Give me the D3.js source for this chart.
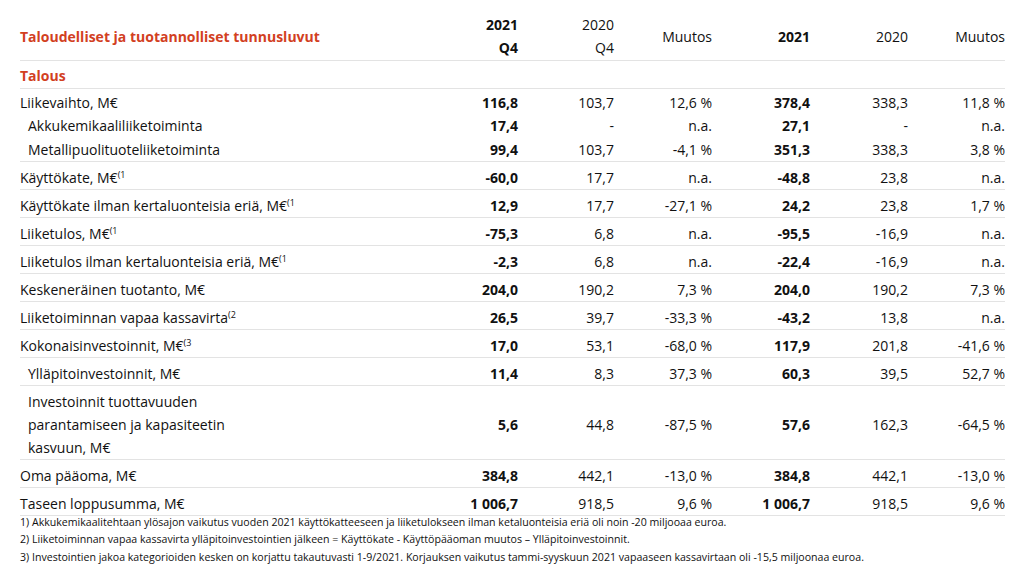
<!DOCTYPE html>
<html><head><meta charset="utf-8">
<script src="https://cdn.jsdelivr.net/npm/d3@7"></script>
<style>body{margin:0;background:#fff}text{font-family:"Open Sans",Lato,sans-serif}</style>
</head><body><svg id="t" width="1025" height="573"></svg>
<script>
// table content
let headTop = ["2021", "2020", "Muutos", "2021", "2020", "Muutos"],
    headSub = ["Q4", "Q4", "", "", "", ""],
    headBold = [true, false, false, true, false, false];

let labels = [
  ["Liikevaihto, M€"], ["Akkukemikaaliliiketoiminta"], ["Metallipuolituoteliiketoiminta"],
  ["Käyttökate, M€"], ["Käyttökate ilman kertaluonteisia eriä, M€"], ["Liiketulos, M€"],
  ["Liiketulos ilman kertaluonteisia eriä, M€"], ["Keskeneräinen tuotanto, M€"],
  ["Liiketoiminnan vapaa kassavirta"], ["Kokonaisinvestoinnit, M€"], ["Ylläpitoinvestoinnit, M€"],
  ["Investoinnit tuottavuuden", "parantamiseen ja kapasiteetin", "kasvuun, M€"],
  ["Oma pääoma, M€"], ["Taseen loppusumma, M€"]];
let notes = ["", "", "", "(1", "(1", "(1", "(1", "", "(2", "(3", "", "", "", ""];
let indent = [0, 1, 1, 0, 0, 0, 0, 0, 0, 0, 1, 1, 0, 0];
let newGroup = [1, 0, 0, 1, 1, 1, 1, 1, 1, 1, 1, 1, 1, 1];

let q4_2021 = ["116,8", "17,4", "99,4", "-60,0", "12,9", "-75,3", "-2,3", "204,0", "26,5", "17,0", "11,4", "5,6", "384,8", "1 006,7"];
let q4_2020 = ["103,7", "-", "103,7", "17,7", "17,7", "6,8", "6,8", "190,2", "39,7", "53,1", "8,3", "44,8", "442,1", "918,5"];
let q4_chg = ["12,6 %", "n.a.", "-4,1 %", "n.a.", "-27,1 %", "n.a.", "n.a.", "7,3 %", "-33,3 %", "-68,0 %", "37,3 %", "-87,5 %", "-13,0 %", "9,6 %"];
let y2021 = ["378,4", "27,1", "351,3", "-48,8", "24,2", "-95,5", "-22,4", "204,0", "-43,2", "117,9", "60,3", "57,6", "384,8", "1 006,7"];
let y2020 = ["338,3", "-", "338,3", "23,8", "23,8", "-16,9", "-16,9", "190,2", "13,8", "201,8", "39,5", "162,3", "442,1", "918,5"];
let y_chg = ["11,8 %", "n.a.", "3,8 %", "n.a.", "1,7 %", "n.a.", "n.a.", "7,3 %", "n.a.", "-41,6 %", "52,7 %", "-64,5 %", "-13,0 %", "9,6 %"];

let footnotes = [
  "1) Akkukemikaalitehtaan ylösajon vaikutus vuoden 2021 käyttökatteeseen ja liiketulokseen ilman ketaluonteisia eriä oli noin -20 miljooaa euroa.",
  "2) Liiketoiminnan vapaa kassavirta ylläpitoinvestointien jälkeen = Käyttökate - Käyttöpääoman muutos – Ylläpitoinvestoinnit.",
  "3) Investointien jakoa kategorioiden kesken on korjattu takautuvasti 1-9/2021. Korjauksen vaikutus tammi-syyskuun 2021 vapaaseen kassavirtaan oli -15,5 miljoonaa euroa."];

const red = "#d2401f", ink = "#111", rule = "#e3e3e3";
const colRight = [518, 614, 712, 810, 908, 1005];
const cols = [q4_2021, q4_2020, q4_chg, y2021, y2020, y_chg];
const svg = d3.select("#t");
const L = 20, R = 1005, step = 23.3, gap = 28, fs = 14;

function hline(y) {
  svg.append("line").attr("x1", L).attr("x2", R).attr("y1", y).attr("y2", y)
    .attr("stroke", rule).attr("stroke-width", 1);
}

// header
svg.append("text").attr("x", L).attr("y", 37).attr("dy", "0.35em")
  .attr("fill", red).attr("font-weight", 700).attr("font-size", 14)
  .text("Taloudelliset ja tuotannolliset tunnusluvut");
headTop.forEach((h, i) => {
  let two = headSub[i] !== "";
  svg.append("text").attr("x", colRight[i]).attr("y", two ? 25 : 37).attr("dy", "0.35em")
    .attr("text-anchor", "end").attr("font-size", fs).attr("fill", ink)
    .attr("font-weight", headBold[i] ? 700 : 400).text(h);
  if (two) svg.append("text").attr("x", colRight[i]).attr("y", 48).attr("dy", "0.35em")
    .attr("text-anchor", "end").attr("font-size", fs).attr("fill", ink)
    .attr("font-weight", headBold[i] ? 700 : 400).text(headSub[i]);
});
hline(60.5);
svg.append("text").attr("x", L).attr("y", 76).attr("dy", "0.35em")
  .attr("fill", red).attr("font-weight", 700).attr("font-size", 14).text("Talous");
hline(88.5);

// rows
let y = 103 - gap, lastBottom = null;
labels.forEach((lab, r) => {
  let top = y + (newGroup[r] ? gap : step);
  if (newGroup[r] && r > 0) hline(Math.round(lastBottom + 11) + 0.5);
  let n = lab.length, mid = top + (n - 1) * step / 2;
  lab.forEach((s, k) => {
    let t = svg.append("text").attr("x", L + indent[r] * 8).attr("y", top + k * step).attr("dy", "0.35em")
      .attr("font-size", fs).attr("fill", ink).text(s);
    if (k === n - 1 && notes[r]) t.append("tspan").attr("font-size", 9).attr("dy", "-0.55em").text(notes[r]);
  });
  cols.forEach((c, i) => {
    svg.append("text").attr("x", colRight[i]).attr("y", mid).attr("dy", "0.35em")
      .attr("text-anchor", "end").attr("font-size", fs).attr("fill", ink)
      .attr("font-weight", headBold[i] ? 700 : 400).text(c[r]);
  });
  y = top + (n - 1) * step;
  lastBottom = y;
});
hline(Math.round(lastBottom + 11) + 0.5);

footnotes.forEach((f, i) => {
  svg.append("text").attr("x", L).attr("y", 522 + i * 17.5).attr("dy", "0.35em")
    .attr("font-size", 10.6).attr("fill", ink).text(f);
});
</script></body></html>
